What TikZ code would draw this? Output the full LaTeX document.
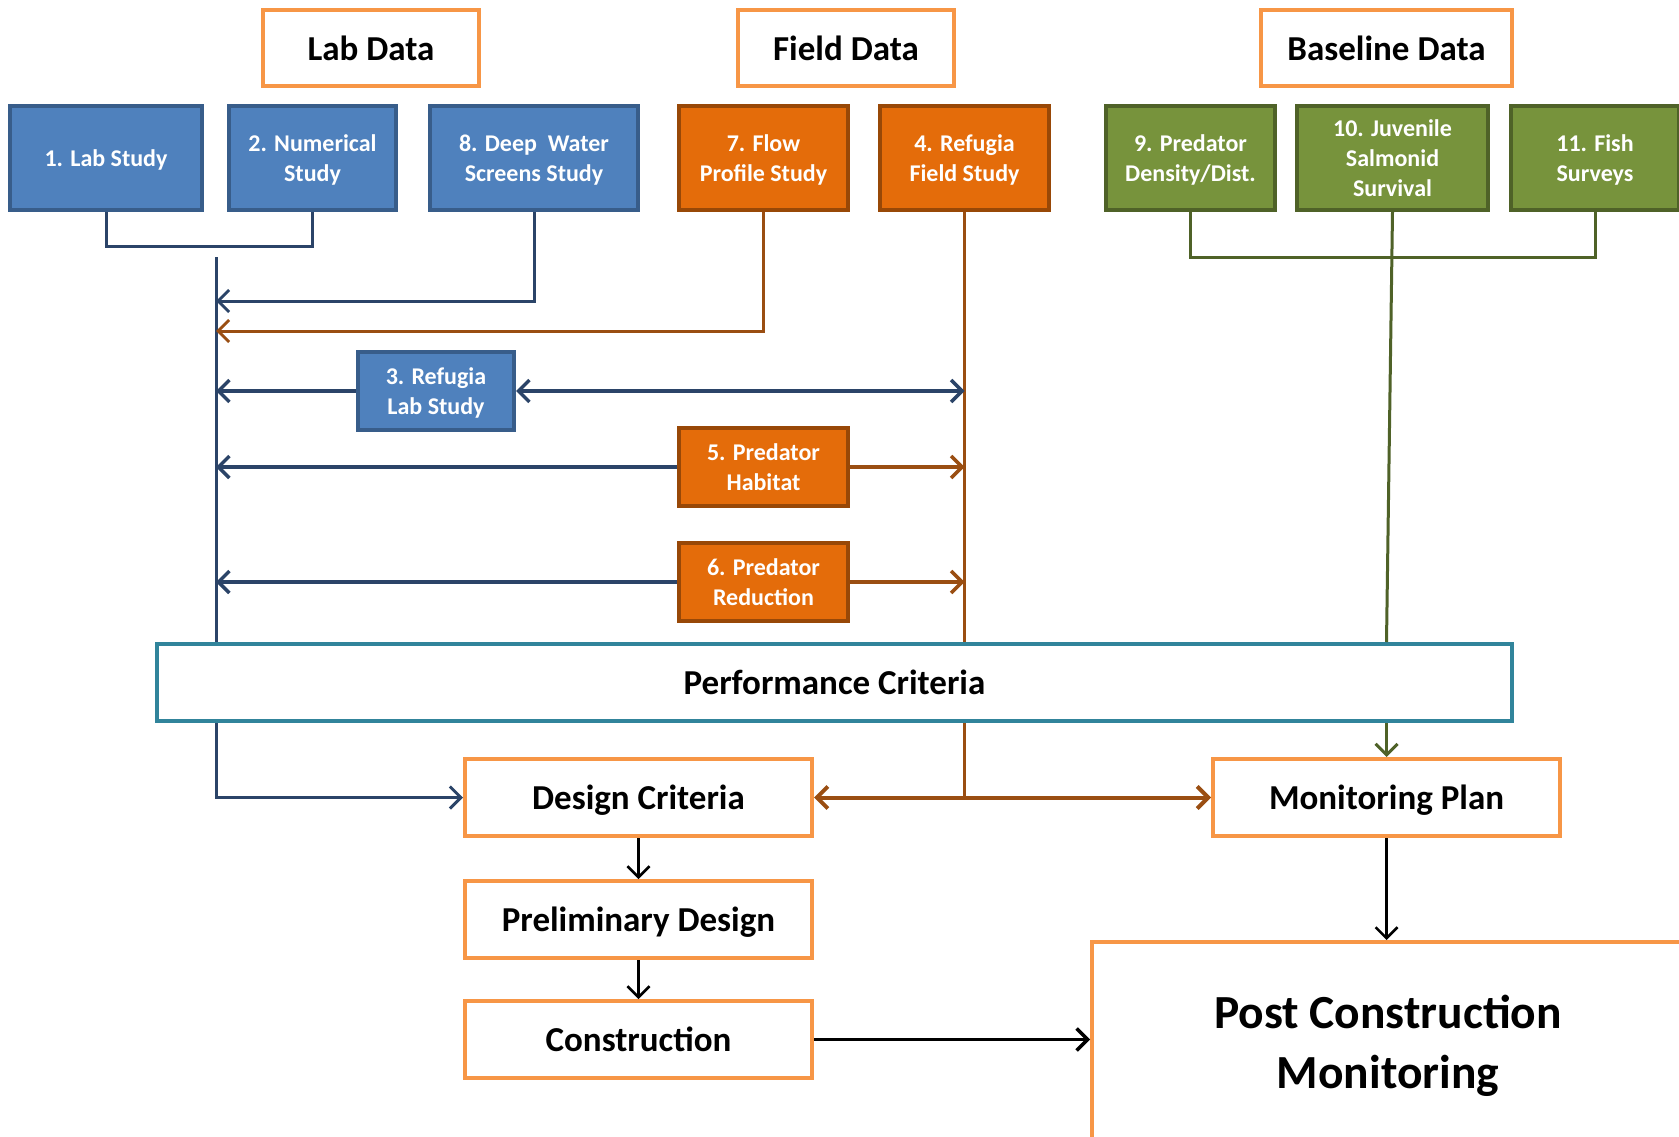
\documentclass[tikz,border=0pt]{standalone}
\usepackage{fontspec}
\setmainfont{Carlito}
\usetikzlibrary{arrows.meta}
\definecolor{blueF}{HTML}{4F81BD}
\definecolor{blueD}{HTML}{385D8A}
\definecolor{blueL}{HTML}{2B4468}
\definecolor{orgF}{HTML}{E46C0A}
\definecolor{orgD}{HTML}{984807}
\definecolor{brL}{HTML}{9A4E12}
\definecolor{grnF}{HTML}{77933C}
\definecolor{grnD}{HTML}{4F6228}
\definecolor{hdrO}{HTML}{F79646}
\definecolor{teal}{HTML}{31849B}
\tikzset{
  hdr/.style={draw=hdrO, line width=4pt, fill=white, rectangle, inner sep=0pt, text depth=0pt,
    minimum height=76pt, font=\fontsize{35}{40}\selectfont\bfseries},
  study/.style={rectangle, line width=4pt, inner sep=0pt, text=white, align=center, text depth=0pt,
    minimum height=104pt, font=\fontsize{24}{30}\selectfont\bfseries},
  bstudy/.style={study, fill=blueF, draw=blueD},
  ostudy/.style={study, fill=orgF, draw=orgD},
  gstudy/.style={study, fill=grnF, draw=grnD},
  arr/.style={-{Straight Barb[length=11pt,width=22pt]}},
  darr/.style={{Straight Barb[length=11pt,width=22pt]}-{Straight Barb[length=11pt,width=22pt]}},
  bl/.style={draw=blueL, line width=3pt},
  br/.style={draw=brL, line width=3pt},
  gr/.style={draw=grnD, line width=3pt},
  bk/.style={draw=black, line width=2.5pt},
}
\begin{document}
\begin{tikzpicture}[x=1pt,y=-1pt]
\clip (0,0) rectangle (1679,1137);
\fill[white] (0,0) rectangle (1679,1137);

% headers
\node[hdr, minimum width=216pt] (labd) at (371,48) {Lab Data};
\node[hdr, minimum width=216pt] (fieldd) at (846,48) {Field Data};
\node[hdr, minimum width=251pt] (based) at (1386.5,48) {Baseline Data};

% study boxes
\node[bstudy, minimum width=192pt] (s1) at (106,158) {1. Lab Study};
\node[bstudy, minimum width=167pt] (s2) at (312.5,158) {2. Numerical\\Study};
\node[bstudy, minimum width=208pt] (s8) at (534,158) {8. Deep~ Water\\Screens Study};
\node[ostudy, minimum width=169pt] (s7) at (763.5,158) {7. Flow\\Profile Study};
\node[ostudy, minimum width=169pt] (s4) at (964.5,158) {4. Refugia\\Field Study};
\node[gstudy, minimum width=169pt] (s9) at (1190.5,158) {9. Predator\\Density/Dist.};
\node[gstudy, minimum width=191pt] (s10) at (1392.5,158) {10. Juvenile\\Salmonid\\Survival};
\node[gstudy, minimum width=168pt] (s11) at (1595,158) {11. Fish\\Surveys};

\node[bstudy, minimum width=156pt, minimum height=78pt] (s3) at (436,391) {3. Refugia\\Lab Study};
\node[ostudy, minimum width=169pt, minimum height=78pt] (s5) at (763.5,467) {5. Predator\\Habitat};
\node[ostudy, minimum width=169pt, minimum height=78pt] (s6) at (763.5,582) {6. Predator\\Reduction};

% performance criteria
\node[draw=teal, line width=4pt, fill=white, rectangle, inner sep=0pt, text depth=0pt,
  minimum width=1355pt, minimum height=77pt, font=\fontsize{35}{40}\selectfont\bfseries]
  (pc) at (834.5,682.5) {Performance Criteria};

% lower boxes
\node[hdr, minimum width=347pt, minimum height=77pt] (dc) at (638.5,797.5) {Design Criteria};
\node[hdr, minimum width=347pt, minimum height=77pt] (mp) at (1386.5,797.5) {Monitoring Plan};
\node[hdr, minimum width=347pt, minimum height=77pt] (pd) at (638.5,919.5) {Preliminary Design};
\node[hdr, minimum width=347pt, minimum height=77pt] (co) at (638.5,1039.5) {Construction};
\node[hdr, minimum width=592pt, minimum height=200pt, align=center,
  font=\fontsize{47.5}{60}\selectfont\bfseries] (pcm) at (1388,1042) {Post Construction\\Monitoring};

% blue spine
\coordinate (vb) at (216,257);
\draw[bl] (s1.south) -- ++(0,34) -| (s2.south);
\draw[bl] (vb) -- (vb |- pc.north);
\draw[bl, arr] (s8.south) |- (vb |- 0,301);
\draw[br, arr] (s7.south) |- (vb |- 0,331);

% refugia spine
\draw[br] (s4.south) -- (s4.south |- pc.north);

% 3, 5, 6
\draw[bl, line width=3.5pt, arr] (s3.west) -- (vb |- s3.west);
\draw[bl, line width=3.5pt, darr] (s3.east) -- (s4.south |- s3.east);
\draw[bl, line width=3.5pt, arr] (s5.west) -- (vb |- s5.west);
\draw[br, line width=3.5pt, arr] (s5.east) -- (s4.south |- s5.east);
\draw[bl, line width=3.5pt, arr] (s6.west) -- (vb |- s6.west);
\draw[br, line width=3.5pt, arr] (s6.east) -- (s4.south |- s6.east);

% green
\draw[gr] (s9.south) -- ++(0,45) -| (s11.south);
\draw[gr] (s10.south) -- (mp.north |- pc.north);
\draw[gr, arr] (mp.north |- pc.south) -- (mp.north);

% below PC
\draw[bl, arr] (vb |- pc.south) |- (dc.west);
\draw[br] (s4.south |- pc.south) -- (s4.south |- dc.east);
\draw[br, line width=4pt, darr] (dc.east) -- (mp.west);
\draw[bk, arr] (dc.south) -- (pd.north);
\draw[bk, arr] (pd.south) -- (co.north);
\draw[bk, line width=3.5pt, arr] (co.east) -- (pcm.west |- co.east);
\draw[bk, arr] (mp.south) -- (mp.south |- pcm.north);
\end{tikzpicture}
\end{document}
